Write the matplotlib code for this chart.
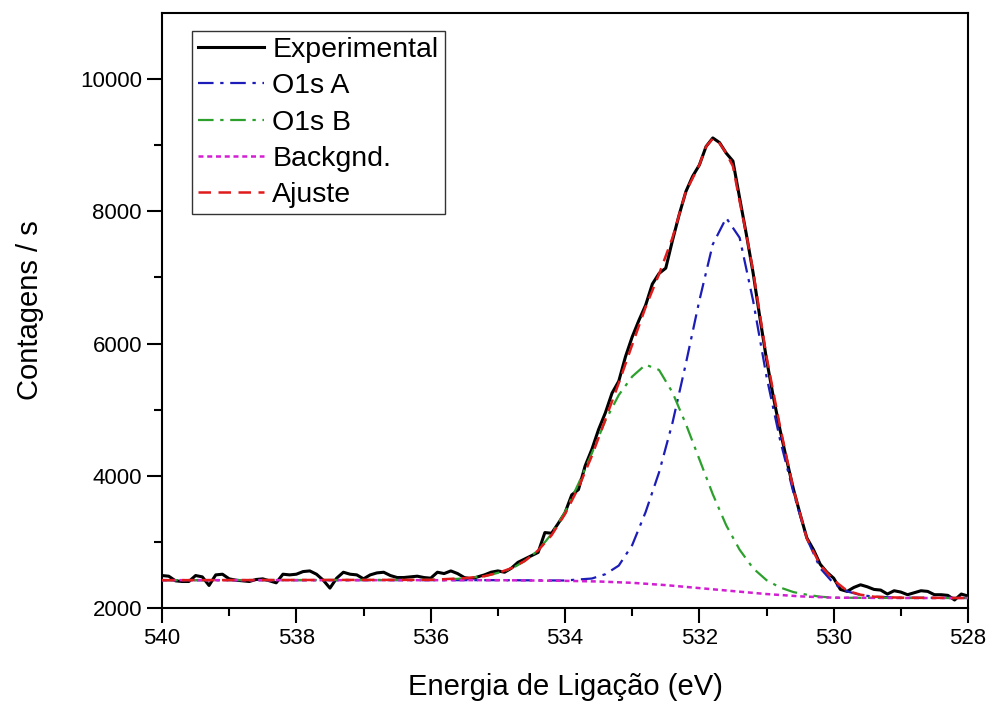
import matplotlib
matplotlib.use("Agg")
import matplotlib.pyplot as plt

plt.rcParams['font.family'] = ['Liberation Sans', 'DejaVu Sans']

# binding energy grid of the measured spectrum (eV), 540 -> 528 in 0.1 steps
energy = [round(540.0 - 0.1 * i, 1) for i in range(121)]

experimental = [
    2490, 2480, 2410, 2400, 2400, 2490, 2470, 2340, 2500, 2510,   # 540.0 - 539.1
    2440, 2420, 2410, 2400, 2430, 2440, 2410, 2380, 2510, 2500,   # 539.0 - 538.1
    2510, 2550, 2560, 2510, 2420, 2300, 2450, 2540, 2510, 2500,   # 538.0 - 537.1
    2440, 2500, 2530, 2540, 2490, 2460, 2460, 2470, 2480, 2460,   # 537.0 - 536.1
    2450, 2540, 2520, 2560, 2520, 2460, 2440, 2470, 2500, 2540,   # 536.0 - 535.1
    2560, 2540, 2600, 2690, 2740, 2790, 2840, 3140, 3130, 3280,   # 535.0 - 534.1
    3440, 3710, 3790, 4150, 4400, 4700, 4950, 5250, 5430, 5800,   # 534.0 - 533.1
    6100, 6350, 6580, 6900, 7060, 7140, 7560, 7950, 8300, 8530,   # 533.0 - 532.1
    8700, 8980, 9110, 9040, 8880, 8760, 8200, 7650, 7070, 6400,   # 532.0 - 531.1
    5760, 5200, 4700, 4240, 3800, 3420, 3060, 2880, 2660, 2540,   # 531.0 - 530.1
    2450, 2280, 2250, 2310, 2350, 2320, 2280, 2270, 2210, 2260,   # 530.0 - 529.1
    2240, 2200, 2230, 2260, 2250, 2200, 2200, 2190, 2120, 2210,   # 529.0 - 528.1
    2180,                                                         # 528.0
]

# fitted components
a_energy = [540.0, 535.0, 534.0, 533.6, 533.4, 533.2, 533.0, 532.8, 532.6, 532.4,
            532.2, 532.0, 531.8, 531.6, 531.4, 531.2, 531.0, 530.8, 530.6, 530.4,
            530.2, 530.0, 529.8, 529.6, 529.4, 529.0, 528.0]
o1s_a = [2420, 2420, 2415, 2445, 2510, 2640, 2950, 3450, 4050, 4800,
         5700, 6650, 7500, 7900, 7600, 6650, 5500, 4550, 3750, 3050,
         2600, 2370, 2250, 2195, 2170, 2155, 2150]

b_energy = [540.0, 536.0, 535.6, 535.2, 535.0, 534.8, 534.6, 534.4, 534.2, 534.0,
            533.8, 533.6, 533.4, 533.2, 533.0, 532.8, 532.6, 532.4, 532.2, 532.0,
            531.8, 531.6, 531.4, 531.2, 531.0, 530.8, 530.6, 530.4, 530.2, 530.0,
            529.0, 528.0]
o1s_b = [2420, 2425, 2440, 2480, 2530, 2590, 2710, 2870, 3120, 3450,
         3880, 4340, 4830, 5220, 5500, 5680, 5600, 5260, 4780, 4250,
         3720, 3250, 2880, 2600, 2420, 2310, 2240, 2200, 2170, 2155,
         2150, 2150]

bg_energy = [540.0, 535.0, 534.0, 533.5, 533.0, 532.5, 532.0, 531.5, 531.0, 530.5,
             530.0, 529.0, 528.0]
backgnd = [2420, 2420, 2410, 2400, 2380, 2345, 2300, 2255, 2210, 2175,
           2155, 2150, 2150]

fit_energy = [540.0, 536.0, 535.5, 535.2, 535.0, 534.8, 534.6, 534.4, 534.2, 534.0,
              533.8, 533.6, 533.4, 533.2, 533.0, 532.8, 532.6, 532.4, 532.2, 532.0,
              531.9, 531.8, 531.7, 531.6, 531.5, 531.4, 531.3, 531.2, 531.0, 530.8,
              530.6, 530.4, 530.2, 530.0, 529.8, 529.6, 529.4, 529.0, 528.0]
ajuste = [2420, 2425, 2450, 2480, 2530, 2600, 2710, 2870, 3100, 3420,
          3820, 4300, 4850, 5400, 5980, 6550, 7050, 7600, 8300, 8700,
          8980, 9100, 9030, 8880, 8680, 8150, 7650, 7100, 5800, 4750,
          3800, 3050, 2650, 2420, 2260, 2200, 2170, 2155, 2150]

fig = plt.figure(figsize=(9.91, 7.02), dpi=100)
ax = fig.add_axes([0.1635, 0.134, 0.8133, 0.8475])

ax.plot(energy, experimental, color='black', lw=2.2, label='Experimental', zorder=3)
ax.plot(a_energy, o1s_a, color='#1c1cb8', lw=1.6, ls=(0, (7, 3, 1.5, 3)), label='O1s A', zorder=4)
ax.plot(b_energy, o1s_b, color='#2ca02c', lw=1.6, ls=(0, (7, 3, 1.5, 3)), label='O1s B', zorder=4)
ax.plot(bg_energy, backgnd, color='#d21fd2', lw=1.8, ls=(0, (2, 1.5)), label='Backgnd.', zorder=4)
ax.plot(fit_energy, ajuste, color='#e01b1b', lw=1.8, ls=(0, (5, 3)), label='Ajuste', zorder=5)

ax.set_xlim(540, 528)
ax.set_ylim(2000, 11000)
ax.set_xticks([540, 538, 536, 534, 532, 530, 528])
ax.set_xticks([539, 537, 535, 533, 531, 529], minor=True)
ax.set_yticks([2000, 4000, 6000, 8000, 10000])
ax.set_yticks([3000, 5000, 7000, 9000], minor=True)
ax.tick_params(axis='both', which='major', direction='out', length=11, width=1.5, labelsize=16)
ax.tick_params(axis='both', which='minor', direction='out', length=6, width=1.5)
for s in ax.spines.values():
    s.set_linewidth(1.5)

ax.set_xlabel('Energia de Ligação (eV)', fontsize=21, labelpad=17)
ax.set_ylabel('Contagens / s', fontsize=21, labelpad=26)

leg = ax.legend(loc='upper left', bbox_to_anchor=(0.037, 0.97), fontsize=20.5,
                frameon=True, fancybox=False, edgecolor='black', handlelength=2.3,
                handletextpad=0.3, labelspacing=0.36, borderpad=0.22, borderaxespad=0)
leg.get_frame().set_linewidth(1.0)

fig.savefig('out.png', dpi=100)
